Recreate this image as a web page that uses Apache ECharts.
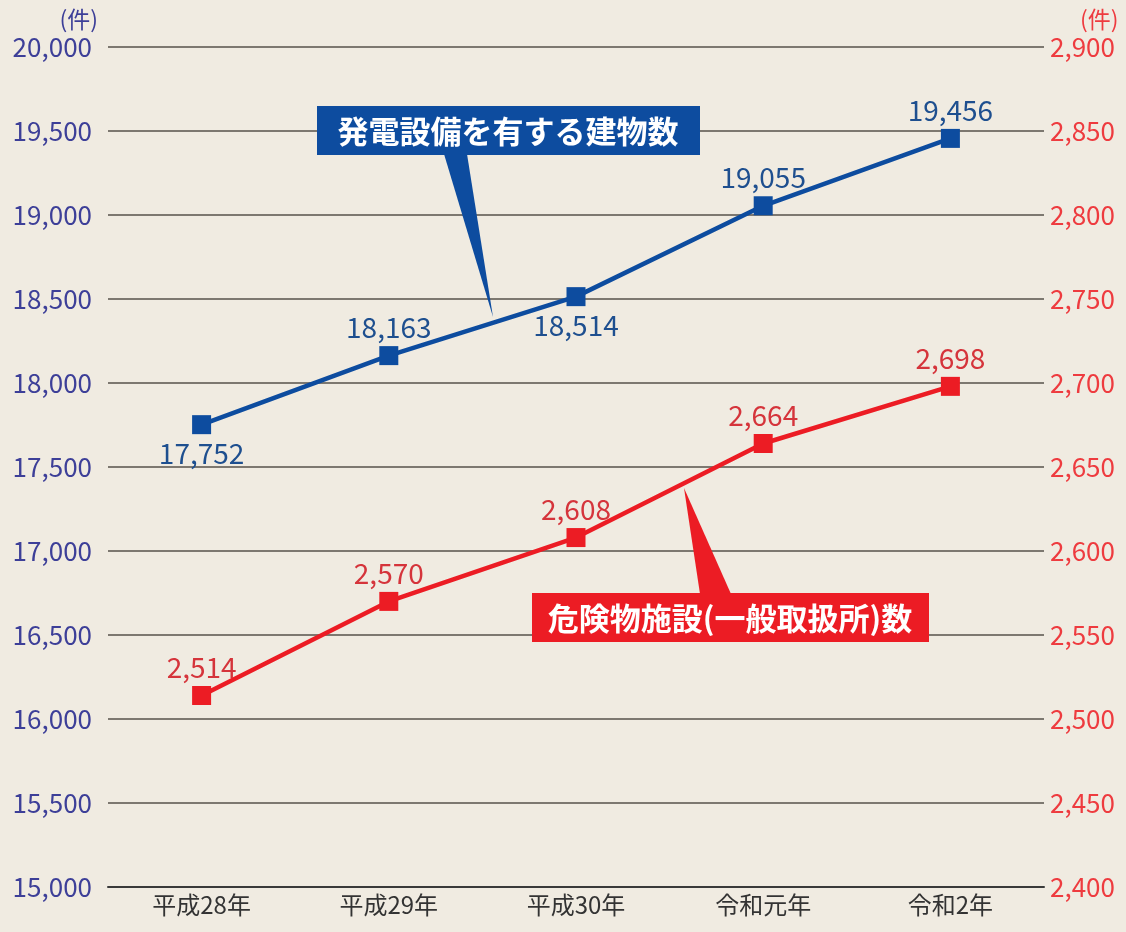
<!DOCTYPE html>
<html><head><meta charset="UTF-8">
<title>ECharts</title>
<script src="https://cdn.jsdelivr.net/npm/echarts@6/dist/echarts.min.js"></script>
<style>
  html, body { margin: 0; padding: 0; background: #f0ebe1; }
  #g1 { width: 1126px; height: 932px; }
</style>
</head>
<body>
<div id="g1"></div>
<script type="text/javascript">
// 年度
var years = ['平成28年', '平成29年', '平成30年', '令和元年', '令和2年'];
// 発電設備を有する建物数（左軸）
var buildings = [17752, 18163, 18514, 19055, 19456];
// 危険物施設(一般取扱所)数（右軸）
var facilities = [2514, 2570, 2608, 2664, 2698];
// 青ラベルの位置（上/下）
var buildingLabelPos = ['bottom', 'top', 'bottom', 'top', 'top'];

var FONT = '"Noto Sans CJK JP", "Noto Sans", sans-serif';
var BLUE = '#0d4c9f', RED = '#ec1c24';

function fmt(v) { return String(v).replace(/\B(?=(\d{3})+(?!\d))/g, ','); }

var blueData = [];
for (var i = 0; i < buildings.length; i++) {
    blueData.push({ value: buildings[i], label: { position: buildingLabelPos[i] } });
}

var option = {
    backgroundColor: '#f0ebe1',
    animation: false,
    grid: { left: 108, right: 82, top: 47, bottom: 45 },
    xAxis: {
        type: 'category',
        data: years,
        boundaryGap: true,
        axisLine: { lineStyle: { color: '#3a3a3a', width: 2 } },
        axisTick: { alignWithLabel: true, inside: true, length: 8, lineStyle: { color: '#3a3a3a', width: 1.5 } },
        axisLabel: { color: '#333', fontSize: 24, fontFamily: FONT, margin: 6 }
    },
    yAxis: [{
        type: 'value',
        min: 15000, max: 20000, interval: 500,
        name: '(件)',
        nameLocation: 'end',
        nameGap: 16,
        nameTextStyle: { color: '#3d3f98', fontSize: 23, fontFamily: FONT, align: 'right', padding: [0, 10, 0, 0] },
        axisLine: { show: false },
        axisTick: { show: false },
        splitLine: { lineStyle: { color: '#7d7870', width: 2 } },
        axisLabel: { color: '#3d3f98', fontSize: 26, fontFamily: FONT, margin: 16, formatter: fmt }
    }, {
        type: 'value',
        min: 2400, max: 2900, interval: 50,
        name: '(件)',
        nameLocation: 'end',
        nameGap: 16,
        nameTextStyle: { color: '#ee3b3f', fontSize: 23, fontFamily: FONT, align: 'left', padding: [0, 0, 0, 36] },
        axisLine: { show: false },
        axisTick: { show: false },
        splitLine: { show: false },
        axisLabel: { color: '#ee3b3f', fontSize: 26, fontFamily: FONT, margin: 6, formatter: fmt }
    }],
    series: [{
        name: '発電設備を有する建物数',
        type: 'line',
        yAxisIndex: 0,
        data: blueData,
        symbol: 'rect',
        symbolSize: 19,
        lineStyle: { color: BLUE, width: 4.5 },
        itemStyle: { color: BLUE },
        label: {
            show: true, distance: 5, color: '#1e4f8f', fontSize: 28, fontFamily: FONT,
            formatter: function (p) { return fmt(p.value); }
        },
        z: 3
    }, {
        name: '危険物施設(一般取扱所)数',
        type: 'line',
        yAxisIndex: 1,
        data: facilities,
        symbol: 'rect',
        symbolSize: 19,
        lineStyle: { color: RED, width: 4.5 },
        itemStyle: { color: RED },
        label: {
            show: true, position: 'top', distance: 5, color: '#d5343b', fontSize: 28, fontFamily: FONT,
            formatter: function (p) { return fmt(p.value); }
        },
        z: 3
    }],
    graphic: [
        // 青い吹き出し
        { type: 'polygon', shape: { points: [[444, 154], [467, 154], [493, 317]] }, style: { fill: BLUE }, z: 1 },
        { type: 'rect', shape: { x: 317, y: 106, width: 383, height: 49 }, style: { fill: BLUE }, z: 10 },
        { type: 'text', style: { x: 508, y: 131, text: '発電設備を有する建物数', fill: '#fff', font: 'bold 31px ' + FONT, align: 'center', verticalAlign: 'middle' }, z: 11 },
        // 赤い吹き出し
        { type: 'polygon', shape: { points: [[700, 594], [731, 594], [684, 488]] }, style: { fill: RED }, z: 1 },
        { type: 'rect', shape: { x: 532, y: 593, width: 397, height: 49 }, style: { fill: RED }, z: 10 },
        { type: 'text', style: { x: 730, y: 618, text: '危険物施設(一般取扱所)数', fill: '#fff', font: 'bold 31px ' + FONT, align: 'center', verticalAlign: 'middle' }, z: 11 }
    ]
};

var myChart = echarts.init(document.getElementById('g1'));
myChart.setOption(option);
</script>
</body>
</html>
